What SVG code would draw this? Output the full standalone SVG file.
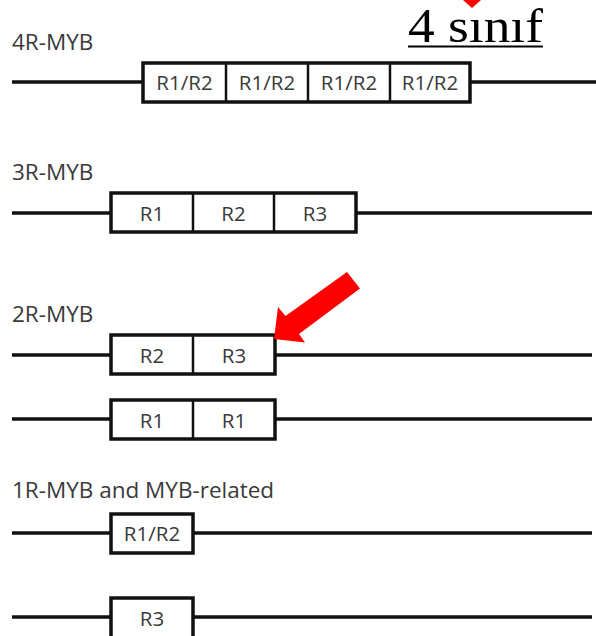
<svg xmlns="http://www.w3.org/2000/svg" width="596" height="636" viewBox="0 0 596 636">
<style>
.bg{fill:#ffffff}
.ln{stroke:#111;stroke-width:3.5;fill:none}
.box{fill:#fff;stroke:#111;stroke-width:3.5}
.div{stroke:#111;stroke-width:2.5}
.lbl{font-family:"Open Sans","Liberation Sans",sans-serif;font-size:22.5px;fill:#3a3a3a}
.cell{font-family:"Open Sans","Liberation Sans",sans-serif;font-size:20.5px;fill:#3a3a3a;text-anchor:middle}
.title{font-family:"Liberation Serif","DejaVu Serif",serif;font-size:48px;fill:#000}
.red{fill:#ff0000}
</style>
<rect class="bg" x="0" y="0" width="596" height="636"/>
<g id="connectors">
<line class="ln" x1="12" y1="82" x2="596" y2="82"/>
<line class="ln" x1="12" y1="213" x2="592" y2="213"/>
<line class="ln" x1="12" y1="355" x2="592" y2="355"/>
<line class="ln" x1="12" y1="419" x2="592" y2="419"/>
<line class="ln" x1="12" y1="533" x2="592" y2="533"/>
<line class="ln" x1="12" y1="617" x2="592" y2="617"/>
</g>
<g id="title">
<text class="title" x="408" y="42" textLength="135" lengthAdjust="spacingAndGlyphs">4 sınıf</text>
<rect x="408" y="45.5" width="135" height="2" fill="#000"/>
<polygon class="red" points="463,0 481,0 472,8"/>
</g>
<g id="node-4R">
<text class="lbl" x="12" y="50">4R-MYB</text>
<rect class="box" x="143" y="63" width="327" height="39"/>
<line class="div" x1="226" y1="63" x2="226" y2="102"/>
<line class="div" x1="308" y1="63" x2="308" y2="102"/>
<line class="div" x1="390" y1="63" x2="390" y2="102"/>
<text class="cell" x="184.5" y="90">R1/R2</text>
<text class="cell" x="267" y="90">R1/R2</text>
<text class="cell" x="349" y="90">R1/R2</text>
<text class="cell" x="430" y="90">R1/R2</text>
</g>
<g id="node-3R">
<text class="lbl" x="12" y="180">3R-MYB</text>
<rect class="box" x="111" y="193" width="245" height="39"/>
<line class="div" x1="193" y1="193" x2="193" y2="232"/>
<line class="div" x1="274" y1="193" x2="274" y2="232"/>
<text class="cell" x="152" y="221">R1</text>
<text class="cell" x="233.5" y="221">R2</text>
<text class="cell" x="315" y="221">R3</text>
</g>
<g id="node-2R-a">
<text class="lbl" x="12" y="322">2R-MYB</text>
<rect class="box" x="111" y="335" width="164" height="39"/>
<line class="div" x1="193" y1="335" x2="193" y2="374"/>
<text class="cell" x="152" y="363">R2</text>
<text class="cell" x="234" y="363">R3</text>
</g>
<g id="node-2R-b">
<rect class="box" x="111" y="400" width="164" height="39"/>
<line class="div" x1="193" y1="400" x2="193" y2="439"/>
<text class="cell" x="152" y="428">R1</text>
<text class="cell" x="234" y="428">R1</text>
</g>
<g id="arrow">
<polygon class="red" points="274,339 278,307 285.5,316 347,272 360,288.5 299,334 305,342.5"/>
</g>
<g id="node-1R-a">
<text class="lbl" x="12" y="498">1R-MYB and MYB-related</text>
<rect class="box" x="111" y="514" width="82" height="39"/>
<text class="cell" x="152" y="541">R1/R2</text>
</g>
<g id="node-1R-b">
<rect class="box" x="111" y="598" width="82" height="40"/>
<text class="cell" x="152" y="626">R3</text>
</g>
</svg>
